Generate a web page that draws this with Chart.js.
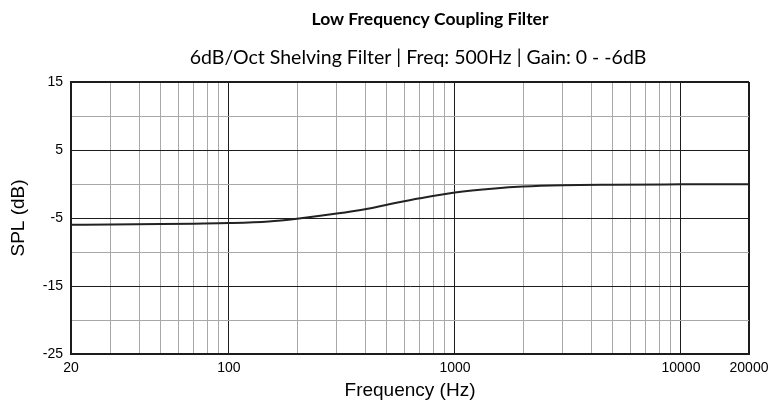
<!DOCTYPE html>
<html>
<head>
<meta charset="utf-8">
<script src="https://cdn.jsdelivr.net/npm/chart.js@4.4.1/dist/chart.umd.min.js"></script>
<style>
  html, body { margin: 0; padding: 0; background: #fff; }
  #wrap { width: 775px; height: 406px; }
</style>
</head>
<body>
<div id="wrap"><canvas id="c" width="775" height="406"></canvas></div>
<script>
// ---- data ----
const chartTitle = "Low Frequency Coupling Filter";
const chartSubtitle = "6dB/Oct Shelving Filter | Freq: 500Hz | Gain: 0 - -6dB";
const xAxisTitle = "Frequency (Hz)";
const yAxisTitle = "SPL (dB)";

const freqHz = [20, 30, 50, 70, 100, 150, 200, 300, 400, 500, 700, 1000, 1500, 2000, 3000, 5000, 10000, 20000];
const splDb  = [-6.0, -5.97, -5.9, -5.83, -5.74, -5.5, -5.1, -4.35, -3.7, -3.05, -2.1, -1.25, -0.65, -0.37, -0.18, -0.1, -0.05, -0.02];

const xTickLabels = [20, 100, 1000, 10000, 20000];
const xMajorGrid  = [100, 1000, 10000, 20000];
const xGridValues = [20, 30, 40, 50, 60, 70, 80, 90,
                     100, 200, 300, 400, 500, 600, 700, 800, 900,
                     1000, 2000, 3000, 4000, 5000, 6000, 7000, 8000, 9000,
                     10000, 20000];
const yTickLabels = [-25, -15, -5, 5, 15];
const yMin = -25, yMax = 15, yStep = 5;

// ---- styles ----
const darkLine = '#1c1c1c';
const grayLine = '#a8a8a8';
const tickFont = { family: 'Liberation Sans, Arial, sans-serif', size: 14 };
const axisTitleFont = { family: 'Liberation Sans, Arial, sans-serif', size: 19 };

const headings = {
  id: 'headings',
  afterDraw(chart) {
    const ctx = chart.ctx;
    ctx.save();
    ctx.fillStyle = '#000';
    ctx.textAlign = 'center';
    ctx.textBaseline = 'middle';
    ctx.font = 'bold 17.5px Lato, "Open Sans", sans-serif';
    ctx.fillText(chartTitle, 430, 19);
    ctx.font = '19.5px Lato, "Open Sans", sans-serif';
    ctx.fillText(chartSubtitle, 418, 58);
    ctx.restore();
  }
};

new Chart(document.getElementById('c'), {
  type: 'line',
  data: {
    datasets: [{
      data: freqHz.map((f, i) => ({ x: f, y: splDb[i] })),
      borderColor: '#222',
      borderWidth: 2,
      pointRadius: 0,
      fill: false,
      cubicInterpolationMode: 'monotone'
    }]
  },
  plugins: [headings],
  options: {
    responsive: false,
    animation: false,
    devicePixelRatio: 1,
    layout: { padding: { top: 82, left: 0, right: 26, bottom: 0 } },
    plugins: { legend: { display: false }, title: { display: false }, tooltip: { enabled: false } },
    scales: {
      x: {
        type: 'logarithmic',
        min: 20,
        max: 20000,
        afterBuildTicks(scale) { scale.ticks = xGridValues.map(v => ({ value: v })); },
        afterFit(scale) { scale.height = 52; },
        ticks: {
          autoSkip: false,
          maxRotation: 0,
          padding: 6,
          color: '#000',
          font: tickFont,
          callback: (v) => xTickLabels.includes(v) ? String(v) : ''
        },
        grid: {
          drawTicks: false,
          color: (ctx) => (ctx.tick && xMajorGrid.includes(ctx.tick.value)) ? darkLine : grayLine,
          lineWidth: (ctx) => (ctx.tick && ctx.tick.value === 20000) ? 2 : 1
        },
        border: { color: darkLine, width: 2 },
        title: { display: true, text: xAxisTitle, color: '#000', font: axisTitleFont, padding: { top: 0, bottom: 4 } }
      },
      y: {
        type: 'linear',
        min: yMin,
        max: yMax,
        afterFit(scale) { scale.width = 71; },
        ticks: {
          stepSize: yStep,
          padding: 8,
          color: '#000',
          font: tickFont,
          callback: (v) => yTickLabels.includes(v) ? String(v) : ''
        },
        grid: {
          drawTicks: false,
          color: (ctx) => (ctx.tick && yTickLabels.includes(ctx.tick.value)) ? darkLine : grayLine,
          lineWidth: (ctx) => (ctx.tick && ctx.tick.value === yMax) ? 2 : 1
        },
        border: { color: darkLine, width: 2 },
        title: { display: true, text: yAxisTitle, color: '#000', font: axisTitleFont, padding: { top: 7, bottom: 0 } }
      }
    }
  }
});
</script>
</body>
</html>
